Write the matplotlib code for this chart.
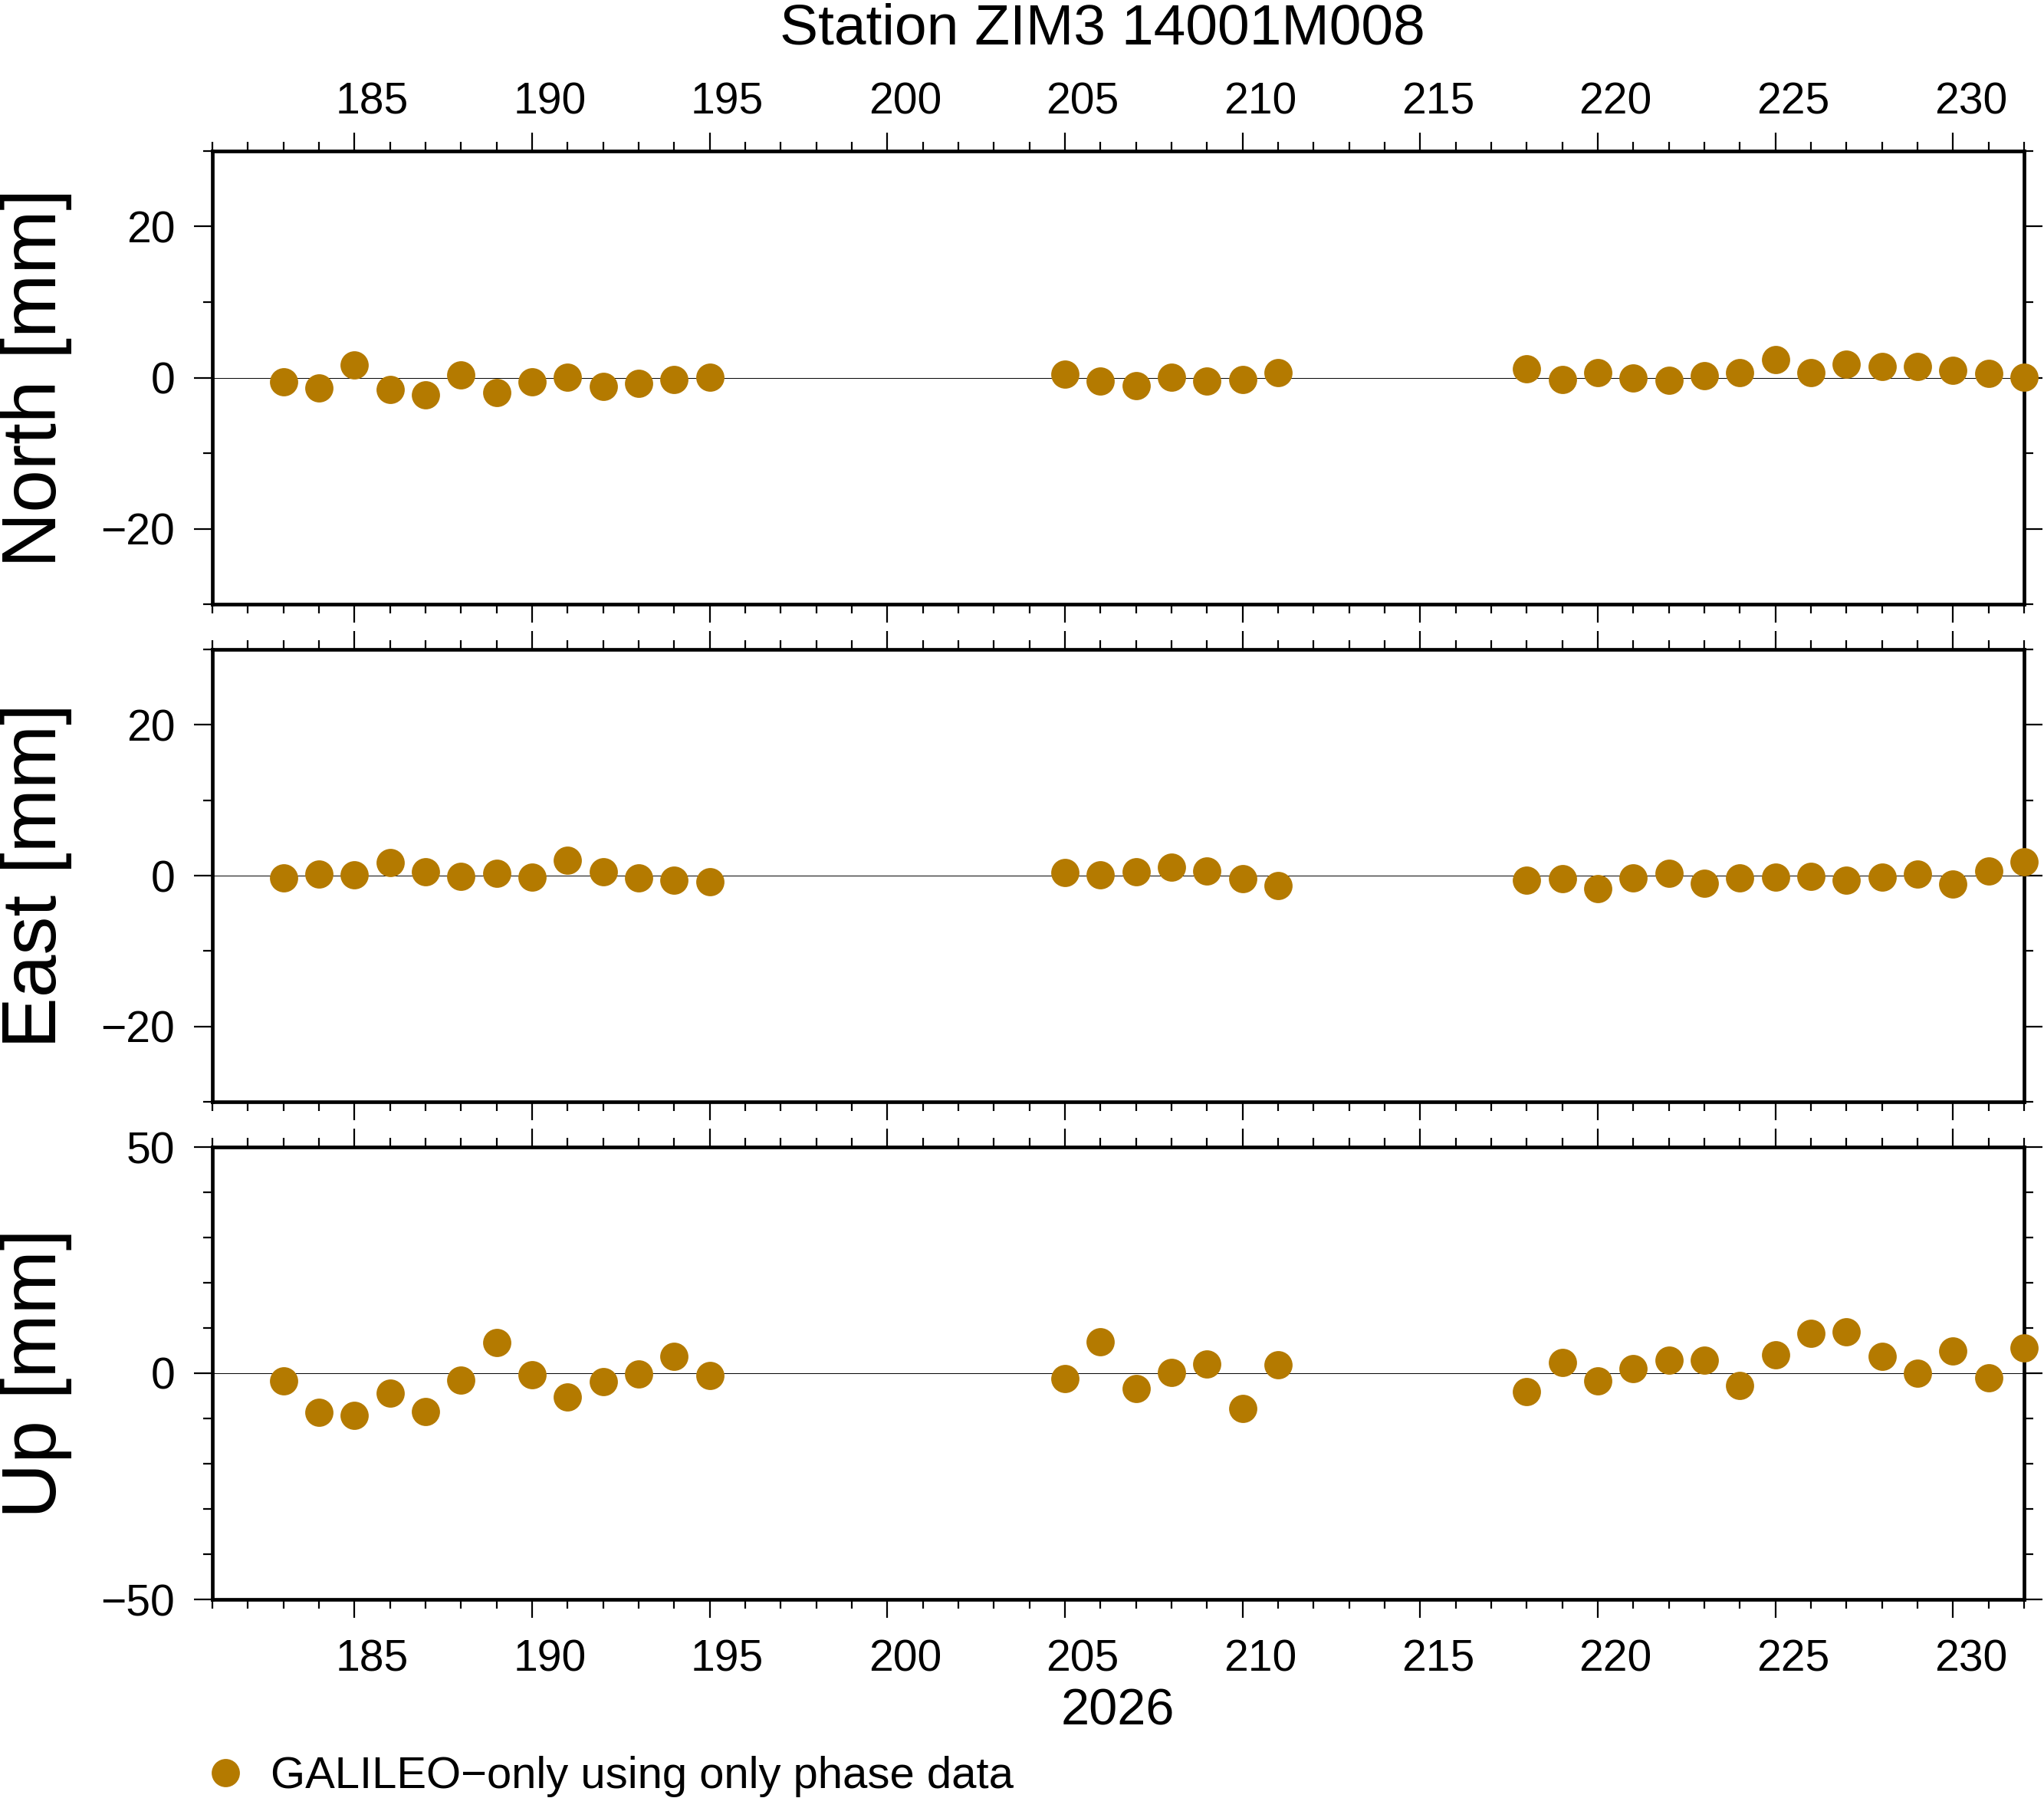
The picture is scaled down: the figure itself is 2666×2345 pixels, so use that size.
import numpy as np
import matplotlib
matplotlib.use("Agg")
import matplotlib.pyplot as plt
from matplotlib.ticker import MultipleLocator
from matplotlib.transforms import ScaledTranslation

plt.rcParams['font.family'] = ['Liberation Sans', 'DejaVu Sans']

# day of year 2026
days = [183, 184, 185, 186, 187, 188, 189, 190, 191, 192, 193, 194, 195,
        205, 206, 207, 208, 209, 210, 211,
        218, 219, 220, 221, 222, 223, 224, 225, 226, 227, 228, 229, 230, 231, 232]

# residuals in mm
north = [-0.6, -1.4, 1.7, -1.6, -2.3, 0.4, -2.0, -0.6, 0.1, -1.2, -0.8, -0.3, 0.1,
         0.5, -0.5, -1.1, 0.1, -0.5, -0.3, 0.7,
         1.2, -0.3, 0.7, -0.1, -0.4, 0.3, 0.7, 2.4, 0.7, 1.8, 1.5, 1.5, 1.0, 0.6, 0.1]
east = [-0.3, 0.2, 0.1, 1.7, 0.5, -0.1, 0.3, -0.2, 2.0, 0.5, -0.3, -0.6, -0.8,
        0.4, 0.1, 0.5, 1.1, 0.6, -0.4, -1.3,
        -0.6, -0.4, -1.7, -0.3, 0.3, -1.0, -0.3, -0.2, -0.1, -0.6, -0.2, 0.2, -1.1, 0.6, 1.8]
up = [-1.7, -8.6, -9.3, -4.4, -8.5, -1.5, 6.8, -0.3, -5.3, -1.9, -0.2, 3.7, -0.5,
      -1.2, 7.0, -3.4, 0.2, 2.0, -7.8, 1.9,
      -4.1, 2.4, -1.7, 1.0, 2.9, 2.9, -2.7, 4.1, 8.8, 9.2, 3.7, 0.0, 4.9, -1.0, 5.6]

components = [north, east, up]
ylabels = ["North [mm]", "East [mm]", "Up [mm]"]
ylims = [30, 30, 50]
ymajor = [20, 20, 50]
title = "Station ZIM3 14001M008"
year = "2026"
legend_label = "GALILEO\u2212only using only phase data"
color = "#b47a00"

W, H = 2666, 2345
fig = plt.figure(figsize=(W / 100, H / 100), dpi=100)

left = 277 / W
width = (2640 - 277) / W
panel_px = [(197, 788), (847, 1437), (1496, 2086)]

tick_fs = 41
# x tick labels sit a bit right of their ticks in the original
shift = ScaledTranslation(0.23, 0, fig.dpi_scale_trans)

for i, (vals, lab, yl, ym) in enumerate(zip(components, ylabels, ylims, ymajor)):
    top, bot = panel_px[i]
    ax = fig.add_axes([left, 1 - bot / H, width, (bot - top) / H])
    ax.axhline(0, color='black', lw=0.7, zorder=1)
    line, = ax.plot(days, vals, 'o', color=color, ms=26.5, mew=0,
                    clip_on=False, zorder=5, label=legend_label)
    ax.set_xlim(181, 232)
    ax.set_ylim(-yl, yl)
    ax.xaxis.set_major_locator(MultipleLocator(5))
    ax.xaxis.set_minor_locator(MultipleLocator(1))
    ax.yaxis.set_major_locator(MultipleLocator(ym))
    ax.yaxis.set_minor_locator(MultipleLocator(10))
    for s in ax.spines.values():
        s.set_linewidth(3.4)
    ax.tick_params(which='both', direction='out', top=True, right=True,
                   width=1.6, labelsize=tick_fs)
    ax.tick_params(which='major', length=17)
    ax.tick_params(which='minor', length=8.5)
    ax.tick_params(axis='y', pad=18)
    if i == 0:
        ax.tick_params(axis='x', labeltop=True, labelbottom=False, pad=9)
    elif i == 1:
        ax.tick_params(axis='x', labeltop=False, labelbottom=False)
    else:
        ax.tick_params(axis='x', labeltop=False, labelbottom=True, pad=20)
    for t in ax.xaxis.get_major_ticks(20):
        t.label1.set_transform(t.label1.get_transform() + shift)
        t.label2.set_transform(t.label2.get_transform() + shift)
    fig.text(94 / W, 1 - (top + bot) / 2 / H, lab, rotation=90,
             ha='right', va='center', fontsize=72)

fig.text(1438 / W, 1 - 58 / H, title, ha='center', va='baseline', fontsize=54)
fig.text(1458 / W, 1 - 2250 / H, year, ha='center', va='baseline', fontsize=48)

fig.legend(handles=[line], labels=[legend_label], loc='center left',
           bbox_to_anchor=(265 / W, 1 - 2317 / H), frameon=False,
           fontsize=41.8, handlelength=1.0, handletextpad=0.51,
           borderpad=0, borderaxespad=0, numpoints=1)

fig.savefig("out.png", dpi=100, facecolor='white')
